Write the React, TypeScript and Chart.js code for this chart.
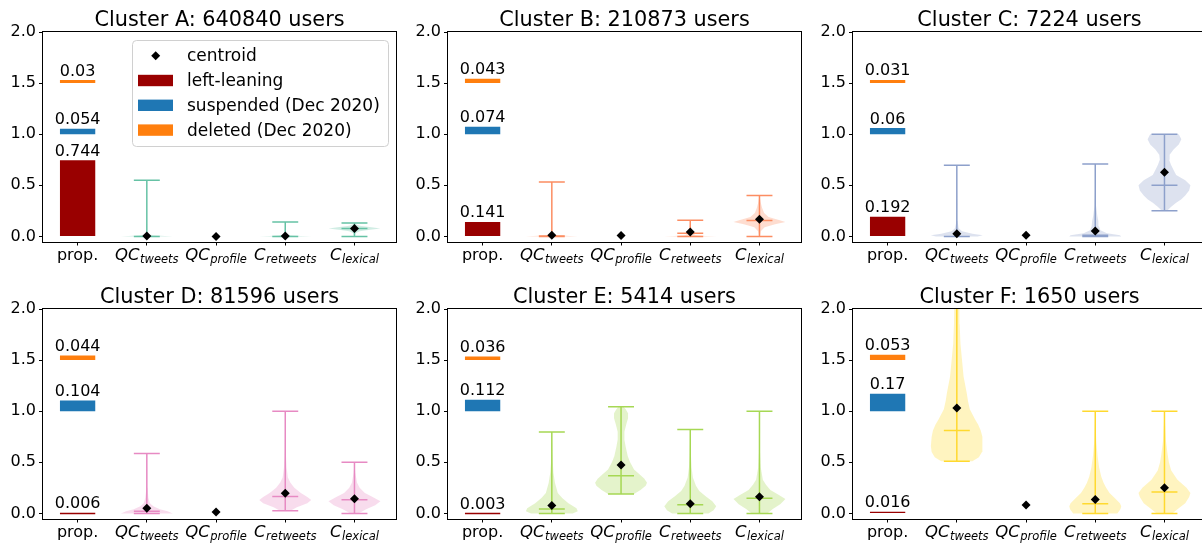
import React, { useEffect, useRef } from 'react';
import { Chart, registerables } from 'chart.js';

Chart.register(...registerables);

// ---------------- data ----------------
const clusterNames = ['A', 'B', 'C', 'D', 'E', 'F'];
const userCounts = [640840, 210873, 7224, 81596, 5414, 1650];
const leftLeaning = [0.744, 0.141, 0.192, 0.006, 0.003, 0.016];
const suspended = [0.054, 0.074, 0.06, 0.104, 0.112, 0.17];
const deleted = [0.03, 0.043, 0.031, 0.044, 0.036, 0.053];
const suspendedBase = 1.0;
const deletedBase = 1.5;

const tickMain = ['prop.', 'QC', 'QC', 'C', 'C'];
const tickSub = ['', 'tweets', 'profile', 'retweets', 'lexical'];
const yTicks = [0, 0.5, 1.0, 1.5, 2.0];

// centroids for features QCtweets, QCprofile, Cretweets, Clexical
const centroidsA = [0.003, 0.0, 0.003, 0.078];
const centroidsB = [0.012, 0.008, 0.043, 0.167];
const centroidsC = [0.026, 0.01, 0.053, 0.627];
const centroidsD = [0.05, 0.014, 0.196, 0.144];
const centroidsE = [0.078, 0.473, 0.095, 0.163];
const centroidsF = [1.031, 0.082, 0.137, 0.252];

// violin stats [min, median, max] per feature (null = no violin)
const statsA = [[0, 0, 0.55], null, [0, 0, 0.141], [0, 0.078, 0.131]];
const statsB = [[0, 0.005, 0.533], null, [0, 0.03, 0.157], [0, 0.155, 0.4]];
const statsC = [[0, 0, 0.695], null, [0, 0.01, 0.709], [0.252, 0.5, 1.0]];
const statsD = [[0, 0.02, 0.587], null, [0.026, 0.166, 1.0], [0, 0.134, 0.5]];
const statsE = [[0, 0.043, 0.796], [0.19, 0.369, 1.044], [0, 0.085, 0.822], [0, 0.147, 1.0]];
const statsF = [[0.509, 0.812, 2.6], null, [0, 0.095, 1.0], [0, 0.21, 1.0]];

// violin density profiles: [y, relative half-width]
const densityA = [
  [[0, 1], [0.004, 0.7], [0.01, 0.25], [0.02, 0.05], [0.05, 0.012], [0.2, 0.005], [0.55, 0]],
  null,
  [[0, 1], [0.004, 0.6], [0.01, 0.2], [0.02, 0.05], [0.06, 0.02], [0.141, 0]],
  [[0, 0.01], [0.03, 0.04], [0.05, 0.2], [0.065, 0.6], [0.078, 1], [0.09, 0.65], [0.105, 0.2], [0.12, 0.04], [0.131, 0.01]],
];
const densityB = [
  [[0, 1], [0.004, 0.7], [0.01, 0.25], [0.02, 0.05], [0.06, 0.015], [0.2, 0.005], [0.533, 0]],
  null,
  [[0, 1], [0.005, 0.6], [0.012, 0.2], [0.025, 0.12], [0.04, 0.11], [0.06, 0.07], [0.09, 0.03], [0.12, 0.01], [0.157, 0]],
  [[0, 0.01], [0.05, 0.05], [0.09, 0.2], [0.12, 0.6], [0.14, 1], [0.16, 0.75], [0.19, 0.35], [0.23, 0.18], [0.28, 0.1], [0.33, 0.05], [0.37, 0.02], [0.4, 0.005]],
];
const densityC = [
  [[0, 0.8], [0.01, 1], [0.025, 0.6], [0.05, 0.2], [0.08, 0.07], [0.15, 0.03], [0.3, 0.015], [0.5, 0.006], [0.695, 0]],
  null,
  [[0, 1], [0.012, 0.95], [0.03, 0.45], [0.06, 0.2], [0.1, 0.14], [0.15, 0.12], [0.2, 0.08], [0.3, 0.03], [0.45, 0.01], [0.709, 0]],
  [[0.252, 0.1], [0.29, 0.26], [0.33, 0.45], [0.36, 0.64], [0.4, 0.8], [0.45, 0.95], [0.5, 1], [0.55, 0.8], [0.6, 0.45], [0.65, 0.35], [0.7, 0.25], [0.75, 0.18], [0.8, 0.2], [0.85, 0.35], [0.9, 0.55], [0.95, 0.65], [1.0, 0.55]],
];
const densityD = [
  [[0, 1], [0.02, 0.8], [0.04, 0.5], [0.07, 0.25], [0.1, 0.12], [0.15, 0.06], [0.25, 0.03], [0.4, 0.012], [0.587, 0]],
  null,
  [[0.026, 0.2], [0.06, 0.45], [0.1, 0.85], [0.13, 1], [0.16, 0.85], [0.2, 0.6], [0.25, 0.35], [0.3, 0.2], [0.35, 0.1], [0.45, 0.05], [0.6, 0.02], [1.0, 0.005]],
  [[0, 0.15], [0.04, 0.45], [0.08, 0.8], [0.12, 1], [0.16, 0.7], [0.2, 0.4], [0.25, 0.2], [0.3, 0.1], [0.4, 0.03], [0.5, 0]],
];
const densityE = [
  [[0, 0.8], [0.02, 1], [0.05, 0.95], [0.1, 0.64], [0.15, 0.4], [0.2, 0.23], [0.3, 0.12], [0.4, 0.06], [0.55, 0.03], [0.796, 0]],
  [[0.19, 0.5], [0.23, 0.75], [0.27, 0.95], [0.3, 1], [0.34, 0.9], [0.38, 0.72], [0.43, 0.5], [0.5, 0.35], [0.56, 0.26], [0.65, 0.18], [0.72, 0.13], [0.8, 0.13], [0.87, 0.2], [0.93, 0.27], [0.98, 0.27], [1.02, 0.18], [1.044, 0.1]],
  [[0, 0.7], [0.03, 0.9], [0.07, 1], [0.12, 0.85], [0.17, 0.58], [0.22, 0.35], [0.27, 0.22], [0.35, 0.1], [0.45, 0.05], [0.6, 0.02], [0.822, 0]],
  [[0, 0.3], [0.04, 0.5], [0.09, 0.8], [0.14, 1], [0.18, 0.75], [0.23, 0.42], [0.28, 0.25], [0.33, 0.13], [0.45, 0.05], [0.6, 0.02], [1.0, 0]],
];
const densityF = [
  [[0.509, 0.6], [0.55, 0.85], [0.6, 0.97], [0.66, 1], [0.75, 0.97], [0.81, 0.92], [0.87, 0.82], [0.92, 0.7], [1.02, 0.5], [1.1, 0.43], [1.18, 0.38], [1.34, 0.26], [1.5, 0.2], [1.66, 0.14], [1.85, 0.11], [2.0, 0.1], [2.3, 0.05], [2.6, 0]],
  null,
  [[0, 0.85], [0.04, 0.97], [0.07, 1], [0.1, 0.95], [0.15, 0.75], [0.2, 0.55], [0.25, 0.42], [0.3, 0.32], [0.36, 0.23], [0.45, 0.15], [0.56, 0.09], [0.7, 0.04], [0.85, 0.02], [1.0, 0]],
  [[0, 0.3], [0.04, 0.5], [0.1, 0.8], [0.16, 0.95], [0.2, 1], [0.25, 0.85], [0.33, 0.5], [0.42, 0.26], [0.5, 0.17], [0.58, 0.12], [0.7, 0.06], [0.85, 0.03], [1.0, 0]],
];

const centroids = [centroidsA, centroidsB, centroidsC, centroidsD, centroidsE, centroidsF];
const stats = [statsA, statsB, statsC, statsD, statsE, statsF];
const densities = [densityA, densityB, densityC, densityD, densityE, densityF];

// ---------------- styles ----------------
const violinColors = ['#66c2a5', '#fc8d62', '#8da0cb', '#e78ac3', '#a6d854', '#ffd92f'];
const RED = '#990000';
const BLUE = '#1f77b4';
const ORANGE = '#ff7f0e';
const FONT = '"DejaVu Sans", "Liberation Sans", sans-serif';
const HALF_WIDTH = 0.375;
const CAP = 0.1875;

function rgba(hex: string, a: number) {
  const n = parseInt(hex.slice(1), 16);
  return `rgba(${(n >> 16) & 255},${(n >> 8) & 255},${n & 255},${a})`;
}

function buildDatasets(k: number) {
  const color = violinColors[k];
  const ds: any[] = [];
  ds.push({
    type: 'line',
    label: 'centroid',
    data: centroids[k].map((v, i) => ({ x: i + 1, y: v })),
    showLine: false,
    pointStyle: 'rectRot',
    pointRadius: 4.5,
    pointHoverRadius: 4.5,
    pointBackgroundColor: '#000',
    pointBorderColor: '#000',
    pointBorderWidth: 0,
    order: 0,
  });
  const lineData: any[] = [];
  stats[k].forEach((s, i) => {
    if (!s) return;
    const p = i + 1;
    const [mn, md, mx] = s;
    lineData.push({ x: p, y: mn }, { x: p, y: mx }, { x: p, y: null });
    for (const v of [mn, md, mx]) {
      lineData.push({ x: p - CAP, y: v }, { x: p + CAP, y: v }, { x: p, y: null });
    }
  });
  ds.push({
    type: 'line',
    label: 'lines',
    data: lineData,
    borderColor: color,
    borderWidth: 1.5,
    pointRadius: 0,
    fill: false,
    spanGaps: false,
    order: 1,
  });
  densities[k].forEach((d, i) => {
    if (!d) return;
    const p = i + 1;
    const right = d.map(([y, w]) => ({ x: p + w * HALF_WIDTH, y }));
    const left = d.slice().reverse().map(([y, w]) => ({ x: p - w * HALF_WIDTH, y }));
    ds.push({
      type: 'line',
      label: 'body',
      data: right.concat(left),
      borderColor: 'rgba(0,0,0,0)',
      borderWidth: 1,
      pointRadius: 0,
      fill: 'shape',
      backgroundColor: rgba(color, 0.3),
      order: 2,
    });
  });
  const bar = (base: number, v: number, c: string, label: string) => ({
    type: 'bar',
    label,
    data: [{ x: 0, y: [base, base + v] }],
    backgroundColor: c,
    borderWidth: 0,
    grouped: false,
    categoryPercentage: 1,
    barPercentage: 0.51,
    minBarLength: 1.5,
    order: 3,
  });
  ds.push(bar(0, leftLeaning[k], RED, 'left-leaning'));
  ds.push(bar(suspendedBase, suspended[k], BLUE, 'suspended (Dec 2020)'));
  ds.push(bar(deletedBase, deleted[k], ORANGE, 'deleted (Dec 2020)'));
  return ds;
}

function decorPlugin(k: number) {
  return {
    id: 'decor' + k,
    afterDraw(chart: any) {
      const { ctx, chartArea: a, scales } = chart;
      const xs = scales.x;
      const ys = scales.y;
      ctx.save();
      ctx.fillStyle = '#000';
      // bar value labels
      ctx.font = `16px ${FONT}`;
      ctx.textAlign = 'center';
      ctx.textBaseline = 'alphabetic';
      const cx = xs.getPixelForValue(0);
      const barVals: [number, number][] = [[0, leftLeaning[k]], [suspendedBase, suspended[k]], [deletedBase, deleted[k]]];
      barVals.forEach(([b, v]) => {
        ctx.fillText(String(v), cx, ys.getPixelForValue(b + v) - 4.5);
      });
      // x tick labels
      const ly = a.bottom + 18.5;
      for (let i = 0; i < tickMain.length; i++) {
        const x = xs.getPixelForValue(i);
        if (!tickSub[i]) {
          ctx.font = `16px ${FONT}`;
          ctx.textAlign = 'center';
          ctx.fillText(tickMain[i], x, ly);
          continue;
        }
        const fMain = `italic 16.5px ${FONT}`;
        const fSub = `italic 11.5px ${FONT}`;
        ctx.font = fMain;
        const w1 = ctx.measureText(tickMain[i]).width;
        ctx.font = fSub;
        const w2 = ctx.measureText(tickSub[i]).width;
        const x0 = x - (w1 + w2 + 0.5) / 2;
        ctx.textAlign = 'left';
        ctx.font = fMain;
        ctx.fillText(tickMain[i], x0, ly);
        ctx.font = fSub;
        ctx.fillText(tickSub[i], x0 + w1 + 0.5, ly + 3.3);
      }
      // title
      ctx.font = `20.8px ${FONT}`;
      ctx.textAlign = 'center';
      ctx.fillText(`Cluster ${clusterNames[k]}: ${userCounts[k]} users`, (a.left + a.right) / 2, a.top - 6);
      // frame
      ctx.strokeStyle = '#000';
      ctx.lineWidth = 1;
      ctx.strokeRect(Math.round(a.left) - 0.5, Math.round(a.top) - 0.5, Math.round(a.right - a.left) + 1, Math.round(a.bottom - a.top) + 1);
      // legend (first panel only)
      if (k === 0) {
        const w = 256, h = 106;
        const bx = a.right - 8 - w;
        const by = a.top + 8;
        ctx.beginPath();
        ctx.roundRect(bx + 0.5, by + 0.5, w, h, 4);
        ctx.fillStyle = 'rgba(255,255,255,0.8)';
        ctx.fill();
        ctx.strokeStyle = '#d0d0d0';
        ctx.stroke();
        const rows = ['centroid', 'left-leaning', 'suspended (Dec 2020)', 'deleted (Dec 2020)'];
        const cols = [null, RED, BLUE, ORANGE];
        rows.forEach((t, i) => {
          const ry = by + 15.7 + i * 24.8;
          if (i === 0) {
            ctx.fillStyle = '#000';
            ctx.beginPath();
            const mx = bx + 23.7, r = 4.5;
            ctx.moveTo(mx - r, ry);
            ctx.lineTo(mx, ry - r);
            ctx.lineTo(mx + r, ry);
            ctx.lineTo(mx, ry + r);
            ctx.closePath();
            ctx.fill();
          } else {
            ctx.fillStyle = cols[i] as string;
            ctx.fillRect(bx + 6, ry - 5.7, 35, 11.4);
          }
          ctx.fillStyle = '#000';
          ctx.font = `17px ${FONT}`;
          ctx.textAlign = 'left';
          ctx.textBaseline = 'middle';
          ctx.fillText(t, bx + 55, ry + 1);
          ctx.textBaseline = 'alphabetic';
        });
      }
      ctx.restore();
    },
  };
}

function Panel({ k }: { k: number }) {
  const ref = useRef<HTMLCanvasElement | null>(null);
  useEffect(() => {
    const chart = new Chart(ref.current as HTMLCanvasElement, {
      type: 'line',
      data: { datasets: buildDatasets(k) },
      options: {
        animation: false,
        responsive: false,
        devicePixelRatio: 1,
        events: [],
        layout: { padding: { top: 32, right: 9, left: 0, bottom: 0 } },
        plugins: {
          legend: { display: false },
          tooltip: { enabled: false },
          title: { display: false },
        },
        scales: {
          x: {
            type: 'linear',
            min: -0.5,
            max: 4.6,
            offset: false,
            afterBuildTicks: (s: any) => {
              s.ticks = tickMain.map((_, i) => ({ value: i }));
            },
            afterFit: (s: any) => {
              s.height = 31.5;
            },
            ticks: { callback: () => '', autoSkip: false, maxRotation: 0 },
            grid: { drawOnChartArea: false, drawTicks: true, tickLength: 4, color: '#000', lineWidth: 1, offset: false },
            border: { display: false },
          },
          y: {
            type: 'linear',
            min: -0.05,
            max: 2,
            afterBuildTicks: (s: any) => {
              s.ticks = yTicks.map((v) => ({ value: v }));
            },
            afterFit: (s: any) => {
              s.width = 43;
            },
            ticks: {
              callback: (v: any) => Number(v).toFixed(1),
              color: '#000',
              font: { family: FONT, size: 16 },
              padding: 3,
              autoSkip: false,
            },
            grid: { drawOnChartArea: false, drawTicks: true, tickLength: 4, color: '#000', lineWidth: 1 },
            border: { display: false },
          },
        },
      } as any,
      plugins: [decorPlugin(k)],
    } as any);
    return () => chart.destroy();
  }, [k]);
  const col = k % 3;
  const row = Math.floor(k / 3);
  return (
    <canvas
      ref={ref}
      width={405}
      height={273}
      style={{ position: 'absolute', left: col * 405, top: row * 277, width: 405, height: 273 }}
    />
  );
}

export default function App() {
  return (
    <div
      style={{
        position: 'absolute',
        left: 0,
        top: 0,
        width: 1202,
        height: 546,
        overflow: 'hidden',
        background: '#fff',
      }}
    >
      {clusterNames.map((_, k) => (
        <Panel key={k} k={k} />
      ))}
    </div>
  );
}
